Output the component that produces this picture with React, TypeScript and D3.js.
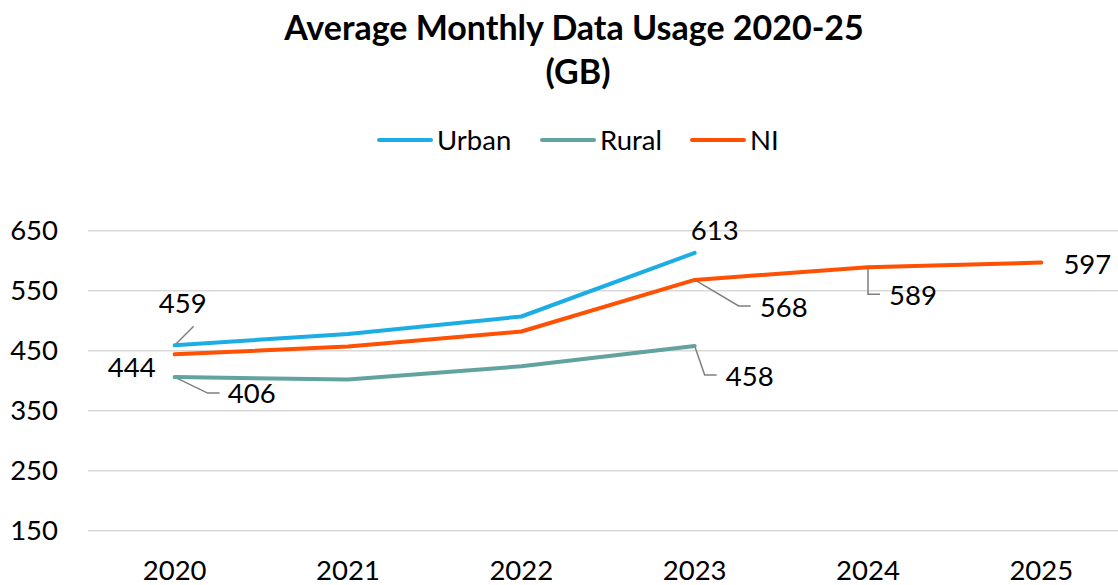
import React, { useEffect, useRef } from 'react';
import * as d3 from 'd3';

// values
const years = ['2020', '2021', '2022', '2023', '2024', '2025'];
const urban: (number | null)[] = [459, 478, 507, 613, null, null];
const rural: (number | null)[] = [406, 402, 424, 458, null, null];
const ni: (number | null)[] = [444, 457, 482, 568, 589, 597];
const yTicks = [150, 250, 350, 450, 550, 650];
const seriesNames = ['Urban', 'Rural', 'NI'];
const seriesColors = ['#1CADE4', '#62A39F', '#FF5003'];

const W = 1118;
const H = 585;
const FONT = 'Lato, "Open Sans", sans-serif';
const LABEL_SIZE = '27.5px';

const App = () => {
  const svgRef = useRef<SVGSVGElement>(null);

  useEffect(() => {
    const svg = d3.select(svgRef.current);
    svg.selectAll('*').remove();

    const x = d3.scaleBand<string>().domain(years).range([88, 1128]).padding(0);
    const cx = (d: string) => (x(d) as number) + x.bandwidth() / 2;
    const y = d3.scaleLinear().domain([150, 650]).range([530.7, 230.7]);

    // Title
    const title = svg.append('text')
      .attr('text-anchor', 'middle')
      .style('font-family', FONT)
      .style('font-weight', 'bold')
      .style('font-size', '34px')
      .style('fill', '#000');
    title.append('tspan').attr('x', 574).attr('y', 40).text('Average Monthly Data Usage 2020-25');
    title.append('tspan').attr('x', 578).attr('y', 84).text('(GB)');

    // Legend
    const legendStarts = [379, 542, 692];
    seriesNames.forEach((name, i) => {
      const lx = legendStarts[i];
      svg.append('line')
        .attr('x1', lx).attr('x2', lx + 52)
        .attr('y1', 140).attr('y2', 140)
        .attr('stroke', seriesColors[i])
        .attr('stroke-width', 4)
        .attr('stroke-linecap', 'round');
      svg.append('text')
        .attr('x', lx + 58).attr('y', 150)
        .style('font-family', FONT)
        .style('font-size', LABEL_SIZE)
        .style('fill', '#000')
        .text(name);
    });

    // Grid lines
    svg.append('g')
      .selectAll('line')
      .data(yTicks)
      .enter().append('line')
      .attr('x1', 88).attr('x2', W)
      .attr('y1', d => y(d)).attr('y2', d => y(d))
      .attr('stroke', '#D9D9D9')
      .attr('stroke-width', 1.5);

    // Y tick labels
    svg.append('g')
      .selectAll('text')
      .data(yTicks)
      .enter().append('text')
      .attr('x', 58)
      .attr('y', d => y(d))
      .attr('dy', '0.35em')
      .attr('text-anchor', 'end')
      .style('font-family', FONT)
      .style('font-size', LABEL_SIZE)
      .style('fill', '#000')
      .text(d => d);

    // X tick labels
    svg.append('g')
      .selectAll('text')
      .data(years)
      .enter().append('text')
      .attr('x', d => cx(d))
      .attr('y', 580)
      .attr('text-anchor', 'middle')
      .style('font-family', FONT)
      .style('font-size', LABEL_SIZE)
      .style('fill', '#000')
      .text(d => d);

    // Series lines
    const allSeries = [urban, rural, ni];
    const line = d3.line<[string, number | null]>()
      .defined(d => d[1] !== null)
      .x(d => cx(d[0]))
      .y(d => y(d[1] as number));

    // data labels: series, point index, text offset, leader path offsets
    const labels: { s: number; i: number; dx: number; dy: number; leader?: [number, number][] }[] = [
      { s: 0, i: 0, dx: 8, dy: -32, leader: [[0, 0], [19, -19]] },
      { s: 2, i: 0, dx: -43, dy: 23 },
      { s: 1, i: 0, dx: 77, dy: 26, leader: [[0, 0], [33, 16], [45, 16]] },
      { s: 0, i: 3, dx: 20, dy: -13 },
      { s: 2, i: 3, dx: 89, dy: 37, leader: [[0, 0], [44, 26], [56, 26]] },
      { s: 1, i: 3, dx: 55, dy: 40, leader: [[0, 0], [10, 29], [22, 29]] },
      { s: 2, i: 4, dx: 45, dy: 38, leader: [[0, 0], [0, 27], [12, 27]] },
      { s: 2, i: 5, dx: 46, dy: 11 },
    ];

    labels.forEach(l => {
      if (!l.leader) return;
      const px = cx(years[l.i]);
      const py = y(allSeries[l.s][l.i] as number);
      svg.append('path')
        .attr('d', d3.line()(l.leader.map(([a, b]) => [px + a, py + b])))
        .attr('fill', 'none')
        .attr('stroke', '#7F7F7F')
        .attr('stroke-width', 1.5);
    });

    allSeries.forEach((vals, si) => {
      svg.append('path')
        .datum(years.map((yr, i) => [yr, vals[i]] as [string, number | null]))
        .attr('fill', 'none')
        .attr('stroke', seriesColors[si])
        .attr('stroke-width', 4)
        .attr('stroke-linecap', 'round')
        .attr('stroke-linejoin', 'round')
        .attr('d', line);
    });

    labels.forEach(l => {
      const px = cx(years[l.i]);
      const v = allSeries[l.s][l.i] as number;
      svg.append('text')
        .attr('x', px + l.dx)
        .attr('y', y(v) + l.dy)
        .attr('text-anchor', 'middle')
        .style('font-family', FONT)
        .style('font-size', LABEL_SIZE)
        .style('fill', '#000')
        .text(v);
    });
  }, []);

  return (
    <div style={{ position: 'absolute', left: 0, top: 0, width: W, height: H, background: '#fff' }}>
      <svg ref={svgRef} width={W} height={H} style={{ display: 'block' }}></svg>
    </div>
  );
};

export default App;
